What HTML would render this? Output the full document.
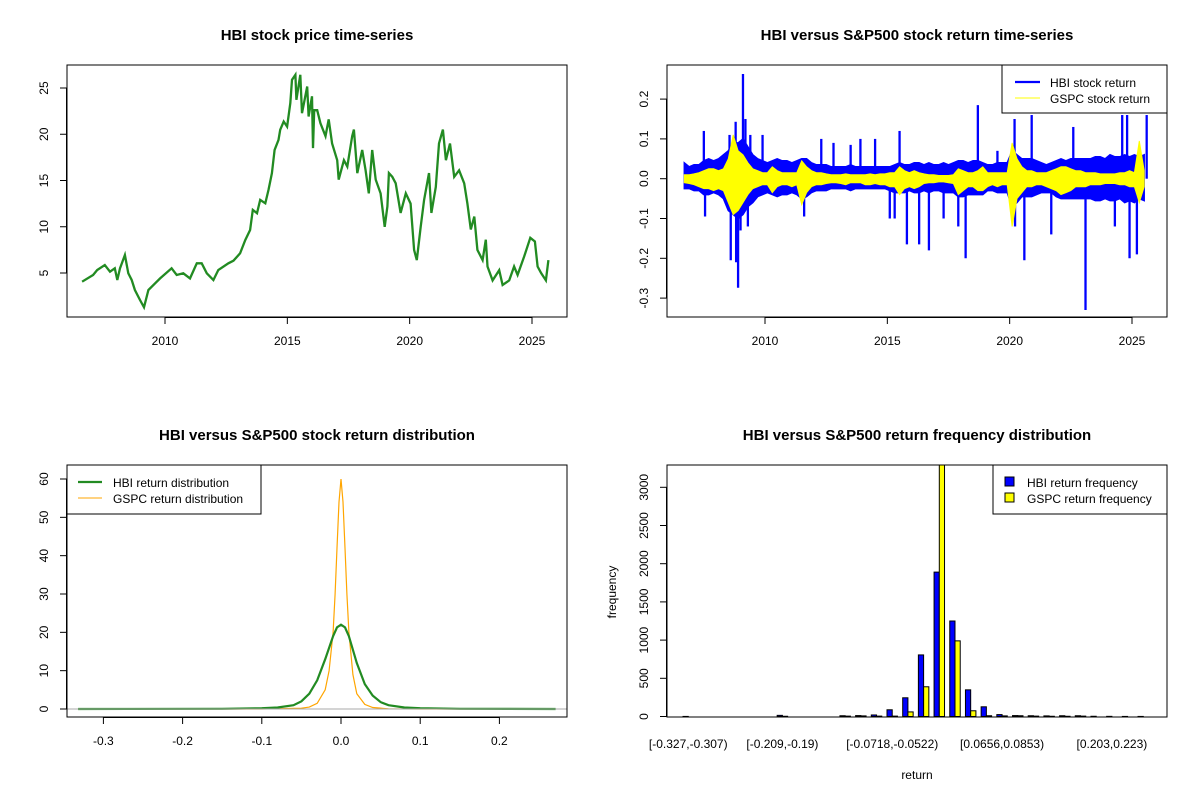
<!DOCTYPE html>
<html><head><meta charset="utf-8"><style>
html,body{margin:0;padding:0;background:#fff}
svg{display:block;font-family:"Liberation Sans",Arial,sans-serif}
</style></head><body>
<svg id="c" width="1200" height="800" viewBox="0 0 1200 800" xmlns="http://www.w3.org/2000/svg"></svg>
<script>
// ---------- Panel 1: price ----------
const priceYears=[2006.61,2007.06,2007.23,2007.54,2007.75,2007.95,2008.05,2008.16,2008.36,2008.50,2008.64,2008.77,2008.98,2009.14,2009.32,2009.59,2009.80,2010.27,2010.48,2010.75,2011.02,2011.30,2011.50,2011.71,2011.98,2012.18,2012.59,2012.80,2013.07,2013.28,2013.48,2013.59,2013.76,2013.89,2014.10,2014.23,2014.37,2014.48,2014.64,2014.71,2014.85,2014.99,2015.12,2015.19,2015.33,2015.37,2015.53,2015.60,2015.81,2015.87,2016.01,2016.05,2016.10,2016.22,2016.35,2016.56,2016.69,2016.83,2017.04,2017.10,2017.31,2017.45,2017.65,2017.72,2017.86,2018.06,2018.20,2018.33,2018.47,2018.61,2018.81,2018.98,2019.09,2019.15,2019.29,2019.43,2019.63,2019.84,2020.04,2020.18,2020.29,2020.45,2020.59,2020.79,2020.89,2021.07,2021.20,2021.36,2021.48,2021.65,2021.82,2022.02,2022.23,2022.36,2022.50,2022.64,2022.77,2022.98,2023.11,2023.18,2023.39,2023.66,2023.80,2024.07,2024.27,2024.41,2024.68,2024.93,2025.12,2025.23,2025.37,2025.57,2025.67];
const prices=[4.06,4.78,5.32,5.87,5.14,5.51,4.24,5.51,6.95,4.97,4.24,3.16,2.08,1.29,3.16,3.88,4.42,5.51,4.78,4.97,4.42,6.05,6.05,4.97,4.24,5.32,6.05,6.33,7.13,8.57,9.65,11.82,11.46,12.90,12.54,13.98,15.79,18.31,19.39,20.48,21.38,20.83,23.36,25.89,26.43,23.72,26.43,22.28,25.16,21.92,24.1,18.5,22.6,22.6,21.2,19.8,21.6,19.0,17.2,15.1,17.2,16.5,19.8,20.5,15.8,18.3,16.1,13.6,18.3,15.1,13.6,10.0,12.2,15.8,15.4,14.7,11.5,13.6,12.5,7.5,6.4,10.0,12.9,15.8,11.5,14.3,19.0,20.5,17.2,19.0,15.4,16.1,14.7,12.5,9.7,11.1,7.5,6.4,8.6,5.7,4.2,5.3,3.7,4.2,5.7,4.8,6.8,8.8,8.4,5.7,5.0,4.2,6.4];
const p1YTicks=[5,10,15,20,25];
const yearTicks=[2010,2015,2020,2025];
// ---------- Panel 2: returns (band envelope every 0.2 yr from 2006.7 + spikes) ----------
const retStart=2006.7, retStep=0.2;
const hbiBandHi=[.04,.03,.035,.035,.045,.05,.045,.05,.06,.07,.09,.09,.10,.08,.06,.05,.045,.04,.045,.05,.045,.045,.04,.045,.05,.05,.04,.035,.035,.035,.03,.03,.03,.03,.035,.03,.03,.03,.03,.03,.03,.03,.03,.035,.04,.035,.035,.04,.04,.035,.04,.035,.035,.04,.035,.04,.045,.045,.04,.045,.045,.04,.035,.035,.04,.04,.04,.07,.06,.05,.05,.05,.045,.04,.035,.04,.045,.05,.045,.05,.05,.05,.05,.05,.055,.055,.05,.06,.055,.055,.06,.055,.06,.055,.06];
const hbiBandLo=[-.025,-.025,-.03,-.03,-.04,-.04,-.035,-.04,-.05,-.08,-.09,-.10,-.09,-.07,-.06,-.045,-.04,-.035,-.04,-.045,-.04,-.04,-.035,-.04,-.05,-.045,-.035,-.03,-.03,-.03,-.025,-.025,-.025,-.025,-.03,-.025,-.025,-.025,-.025,-.025,-.025,-.025,-.03,-.035,-.035,-.035,-.03,-.035,-.035,-.03,-.035,-.03,-.03,-.035,-.035,-.035,-.045,-.045,-.04,-.04,-.04,-.04,-.03,-.03,-.035,-.035,-.035,-.07,-.06,-.045,-.045,-.045,-.04,-.035,-.035,-.035,-.045,-.05,-.05,-.05,-.05,-.05,-.05,-.05,-.055,-.055,-.05,-.055,-.055,-.05,-.06,-.055,-.06,-.05,-.055];
const hbiSpikeYears=[2007.5,2007.55,2008.55,2008.6,2008.8,2008.82,2008.9,2009.1,2009.2,2009.0,2009.3,2009.4,2009.9,2011.6,2012.3,2012.8,2013.5,2013.9,2014.5,2015.1,2015.3,2015.5,2015.8,2016.3,2016.7,2017.3,2017.9,2018.2,2018.7,2019.5,2020.2,2020.22,2020.6,2020.9,2021.7,2022.6,2023.1,2024.3,2024.6,2024.8,2024.9,2025.2,2025.6];
const hbiSpikeValues=[.12,-.095,.11,-.205,.143,-.21,-.274,.263,.15,-.13,-.12,.11,.11,-.095,.10,.09,.085,.10,.10,-.10,-.10,.12,-.165,-.165,-.18,-.10,-.12,-.2,.185,.07,.15,-.12,-.205,.16,-.14,.13,-.33,-.12,.16,.16,-.2,-.19,.16];
const gspcBandHi=[.01,.01,.012,.015,.02,.025,.025,.02,.025,.05,.11,.07,.06,.04,.025,.02,.015,.015,.03,.02,.015,.015,.015,.015,.045,.03,.02,.015,.015,.012,.01,.01,.01,.012,.01,.01,.01,.01,.012,.01,.012,.012,.015,.015,.03,.02,.015,.02,.015,.012,.01,.01,.008,.008,.008,.01,.025,.02,.015,.015,.02,.03,.015,.015,.015,.015,.015,.09,.05,.03,.02,.02,.015,.015,.015,.02,.025,.03,.03,.025,.02,.02,.015,.015,.015,.012,.012,.012,.012,.015,.015,.02,.015,.095,.02];
const gspcBandLo=[-.01,-.012,-.015,-.02,-.025,-.025,-.03,-.025,-.03,-.06,-.09,-.08,-.06,-.04,-.025,-.02,-.015,-.015,-.035,-.02,-.015,-.015,-.02,-.015,-.065,-.035,-.02,-.015,-.015,-.012,-.01,-.01,-.012,-.015,-.01,-.01,-.01,-.015,-.015,-.012,-.015,-.015,-.02,-.02,-.04,-.025,-.02,-.025,-.02,-.012,-.01,-.01,-.008,-.008,-.01,-.012,-.04,-.03,-.02,-.02,-.03,-.03,-.02,-.015,-.02,-.015,-.015,-.12,-.05,-.035,-.02,-.02,-.015,-.015,-.02,-.025,-.03,-.04,-.035,-.03,-.02,-.02,-.02,-.015,-.015,-.015,-.012,-.012,-.012,-.015,-.015,-.02,-.02,-.06,-.02];
const p2YTicks=[-0.3,-0.2,-0.1,0.0,0.1,0.2];
// ---------- Panel 3: densities ----------
const hbiDensX=[-0.332,-0.15,-0.1,-0.08,-0.06,-0.05,-0.04,-0.03,-0.02,-0.01,-0.005,0,0.005,0.01,0.02,0.03,0.04,0.05,0.06,0.08,0.1,0.15,0.271];
const hbiDensY=[0,0.05,0.2,0.4,1.0,2.0,4.0,7.5,13,19,21.3,22,21.3,19,12,6.5,3.5,1.8,1.0,0.4,0.2,0.05,0];
const gspcDensX=[-0.332,-0.1,-0.05,-0.04,-0.03,-0.02,-0.015,-0.01,-0.0075,-0.005,-0.0025,0,0.0025,0.005,0.0075,0.01,0.015,0.02,0.03,0.04,0.06,0.1,0.271];
const gspcDensY=[0,0,0.2,0.5,1.5,5,10,20,30,42,54,60,54,42,30,20,9,4,1.2,0.4,0.05,0,0];
const p3XTicks=[-0.3,-0.2,-0.1,0.0,0.1,0.2];
const p3YTicks=[0,10,20,30,40,50,60];
// ---------- Panel 4: histogram ----------
const binLabels=["[-0.327,-0.307)","[-0.307,-0.288)","[-0.288,-0.268)","[-0.268,-0.248)","[-0.248,-0.229)","[-0.229,-0.209)","[-0.209,-0.19)","[-0.19,-0.17)","[-0.17,-0.15)","[-0.15,-0.131)","[-0.131,-0.111)","[-0.111,-0.0914)","[-0.0914,-0.0718)","[-0.0718,-0.0522)","[-0.0522,-0.0325)","[-0.0325,-0.0129)","[-0.0129,0.00673)","[0.00673,0.0264)","[0.0264,0.046)","[0.046,0.0656)","[0.0656,0.0853)","[0.0853,0.105)","[0.105,0.125)","[0.125,0.144)","[0.144,0.164)","[0.164,0.184)","[0.184,0.203)","[0.203,0.223)","[0.223,0.243)","[0.243,0.262)"];
const hbiFreq=[1,0,0,0,0,0,15,0,0,0,10,12,20,88,245,806,1890,1250,349,127,25,12,10,8,10,10,3,2,1,1];
const gspcFreq=[0,0,0,0,0,0,3,0,0,0,5,8,5,5,60,389,3300,990,75,10,8,10,5,3,3,5,0,0,0,0];
const shownLabelIdx=[0,6,13,20,27];
const p4YTicks=[0,500,1000,1500,2000,2500,3000];

// ---------- drawing ----------
const NS="http://www.w3.org/2000/svg";
const svg=document.getElementById('c');
function mk(tag,attrs,parent){const e=document.createElementNS(NS,tag);for(const k in attrs)e.setAttribute(k,attrs[k]);(parent||svg).appendChild(e);return e;}
function txt(s,x,y,attrs,parent){const e=mk('text',Object.assign({x:x,y:y,'font-size':12,fill:'#000','text-anchor':'middle'},attrs||{}),parent);e.textContent=s;return e;}
function lin(d0,d1,r0,r1){return v=>r0+(v-d0)*(r1-r0)/(d1-d0);}

function frame(name){
  const g=mk('g',{});
  
  
  return g;
}
function box(g,L,T,R,B){const r=mk('rect',{x:L,y:T,width:R-L,height:B-T,fill:'none',stroke:'#000','stroke-width':1},g);}
function xAxis(g,ticks,sx,B,fmt){const a=mk('g',{},g);
  mk('line',{x1:sx(ticks[0]),x2:sx(ticks[ticks.length-1]),y1:B+0.5,y2:B+0.5,stroke:'#000'},a);
  ticks.forEach(t=>{mk('line',{x1:sx(t),x2:sx(t),y1:B,y2:B+7,stroke:'#000'},a);const l=txt(fmt(t),sx(t),B+28,{},a);});}
function yAxis(g,ticks,sy,L,fmt){const a=mk('g',{},g);
  mk('line',{x1:L-0.5,x2:L-0.5,y1:sy(ticks[0]),y2:sy(ticks[ticks.length-1]),stroke:'#000'},a);
  ticks.forEach(t=>{mk('line',{x1:L-7,x2:L,y1:sy(t),y2:sy(t),stroke:'#000'},a);const x=L-19,y=sy(t);const l=txt(fmt(t),x,y,{transform:`rotate(-90 ${x} ${y})`},a);});}
function title(s,cx,y){const t=txt(s,cx,y,{'font-size':15,'font-weight':'bold'});}
function f1(v){return v.toFixed(1);}

// Panel 1
(function(){
  const L=67,T=65,R=567,B=317;
  const g=frame('price-panel');
  const sx=lin(2010,2025,165,532), sy=lin(5,25,273,88);
  let d=priceYears.map((y,i)=>(i?'L':'M')+sx(y).toFixed(1)+' '+sy(prices[i]).toFixed(1)).join('');
  const p=mk('path',{d:d,fill:'none',stroke:'#228B22','stroke-width':2.3,'stroke-linejoin':'miter'},g);
  
  box(g,L,T,R,B);
  xAxis(g,yearTicks,sx,B,String);
  yAxis(g,p1YTicks,sy,L,String);
  title('HBI stock price time-series',317,40);
})();

// Panel 2
(function(){
  const L=667,T=65,R=1167,B=317;
  const g=frame('return-panel');
  const sx=lin(2010,2025,765,1132), sy=lin(0,0.1,178.7,138.9);
  const cp=mk('clipPath',{id:'cp2'},g);mk('rect',{x:L,y:T,width:R-L,height:B-T},cp);
  function band(hi,lo){let d='';hi.forEach((h,i)=>{d+=(i?'L':'M')+sx(retStart+i*retStep).toFixed(1)+' '+sy(h).toFixed(1);});
    for(let i=lo.length-1;i>=0;i--){d+='L'+sx(retStart+i*retStep).toFixed(1)+' '+sy(lo[i]).toFixed(1);}return d+'Z';}
  const hb=mk('path',{d:band(hbiBandHi,hbiBandLo),fill:'#0000FF',stroke:'#0000FF','stroke-width':1.5,'clip-path':'url(#cp2)'},g);
  
  hbiSpikeYears.forEach((y,i)=>{
    const s=mk('line',{x1:sx(y),x2:sx(y),y1:sy(0),y2:sy(hbiSpikeValues[i]),stroke:'#0000FF','stroke-width':2.3,'clip-path':'url(#cp2)'},g);
    
  });
  const gs=mk('path',{d:band(gspcBandHi,gspcBandLo),fill:'#FFFF00',stroke:'#FFFF00','stroke-width':1,'clip-path':'url(#cp2)'},g);
  
  box(g,L,T,R,B);
  xAxis(g,yearTicks,sx,B,String);
  yAxis(g,p2YTicks,sy,L,f1);
  title('HBI versus S&P500 stock return time-series',917,40);
  const lg=mk('g',{},g);
  mk('rect',{x:1002,y:65,width:165,height:48,fill:'#fff',stroke:'#000'},lg);
  mk('line',{x1:1015,x2:1040,y1:82,y2:82,stroke:'#0000FF','stroke-width':2.3},lg);
  mk('line',{x1:1015,x2:1040,y1:98,y2:98,stroke:'#FFFF00','stroke-width':1},lg);
  const a=txt('HBI stock return',1050,87,{'text-anchor':'start'},lg);
  const b=txt('GSPC stock return',1050,103,{'text-anchor':'start'},lg);
})();

// Panel 3
(function(){
  const L=67,T=465,R=567,B=717;
  const g=frame('density-panel');
  const sx=lin(0,0.1,341,420.2), sy=lin(0,60,709,479);
  const pg=mk('path',{d:gspcDensX.map((x,i)=>(i?'L':'M')+sx(x).toFixed(1)+' '+sy(gspcDensY[i]).toFixed(1)).join(''),fill:'none',stroke:'#FFA500','stroke-width':1.2},g);
  
  const ph=mk('path',{d:hbiDensX.map((x,i)=>(i?'L':'M')+sx(x).toFixed(1)+' '+sy(hbiDensY[i]).toFixed(1)).join(''),fill:'none',stroke:'#228B22','stroke-width':2.2},g);
  
  const bl=mk('line',{x1:L,x2:R,y1:sy(0),y2:sy(0),stroke:'#aaa','stroke-width':1},g);
  
  box(g,L,T,R,B);
  xAxis(g,p3XTicks,sx,B,f1);
  yAxis(g,p3YTicks,sy,L,String);
  title('HBI versus S&P500 stock return distribution',317,440);
  const lg=mk('g',{},g);
  mk('rect',{x:67,y:465,width:194,height:49,fill:'#fff',stroke:'#000'},lg);
  mk('line',{x1:78,x2:102,y1:482,y2:482,stroke:'#228B22','stroke-width':2.3},lg);
  mk('line',{x1:78,x2:102,y1:498,y2:498,stroke:'#FFA500','stroke-width':1},lg);
  const a=txt('HBI return distribution',113,487,{'text-anchor':'start'},lg);
  const b=txt('GSPC return distribution',113,503,{'text-anchor':'start'},lg);
})();

// Panel 4
(function(){
  const L=667,T=465,R=1167,B=717;
  const g=frame('histogram-panel');
  const u=5.23, x0=677.8;
  const sy=lin(0,500,716.5,678.3);
  const cp=mk('clipPath',{id:'cp4'},g);mk('rect',{x:L,y:T,width:R-L,height:B-T},cp);
  const bars=mk('g',{'clip-path':'url(#cp4)'},g);
  binLabels.forEach((lab,i)=>{
    const xb=x0+(1+3*i)*u;
    const h1=sy(0)-sy(hbiFreq[i]);
    const r1=mk('rect',{x:xb,y:sy(hbiFreq[i]),width:u,height:Math.max(h1,0),fill:'#0000FF',stroke:'#000','stroke-width':1},bars);
    
    const h2=sy(0)-sy(gspcFreq[i]);
    const r2=mk('rect',{x:xb+u,y:sy(gspcFreq[i]),width:u,height:Math.max(h2,0),fill:'#FFFF00',stroke:'#000','stroke-width':1},bars);
    
  });
  shownLabelIdx.forEach(i=>{const t=txt(binLabels[i],x0+(2+3*i)*u,748);});
  box(g,L,T,R,B);
  yAxis(g,p4YTicks,sy,L,String);
  const xl=txt('return',917,779);
  const yl=txt('frequency',616,592,{transform:'rotate(-90 616 592)'});
  title('HBI versus S&P500 return frequency distribution',917,440);
  const lg=mk('g',{},g);
  mk('rect',{x:993,y:465,width:174,height:49,fill:'#fff',stroke:'#000'},lg);
  mk('rect',{x:1005,y:477,width:9,height:9,fill:'#0000FF',stroke:'#000'},lg);
  mk('rect',{x:1005,y:493,width:9,height:9,fill:'#FFFF00',stroke:'#000'},lg);
  const a=txt('HBI return frequency',1027,487,{'text-anchor':'start'},lg);
  const b=txt('GSPC return frequency',1027,503,{'text-anchor':'start'},lg);
})();
</script>
</body></html>
